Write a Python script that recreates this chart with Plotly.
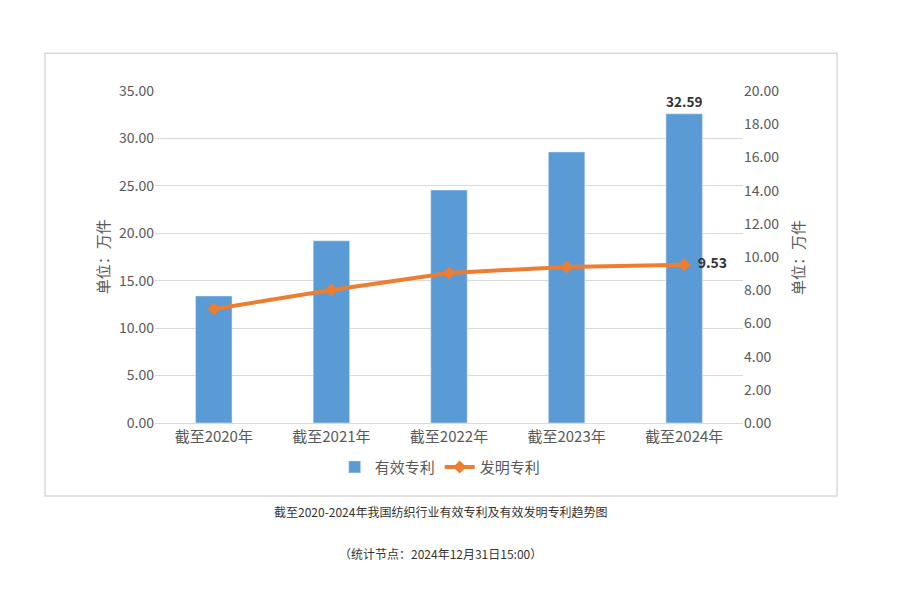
import plotly.graph_objects as go

categories = ["截至2020年", "截至2021年", "截至2022年", "截至2023年", "截至2024年"]
valid_patents = [13.39, 19.2, 24.56, 28.57, 32.59]
invention_patents = [6.87, 8.01, 9.04, 9.40, 9.53]

FONT = "Noto Sans CJK SC"
GREY = "#595959"

fig = go.Figure()
fig.add_trace(go.Bar(x=categories, y=valid_patents, name="有效专利",
                     marker_color="#5b9bd5", width=0.31,
                     text=["", "", "", "", "<b>32.59</b>"], textposition="outside",
                     textfont=dict(size=14, color="#333333", family=FONT), cliponaxis=False))
fig.add_trace(go.Scatter(x=categories, y=invention_patents, name="发明专利", yaxis="y2",
                         mode="lines+markers+text", line=dict(color="#ed7d31", width=4),
                         marker=dict(symbol="diamond", size=10, color="#ed7d31"),
                         text=["", "", "", "", "<b>  9.53</b>"], textposition="middle right",
                         textfont=dict(size=14, color="#333333", family=FONT), cliponaxis=False))

fig.update_layout(
    width=909, height=599, paper_bgcolor="white", plot_bgcolor="white",
    margin=dict(l=147, r=174, t=83, b=184),
    font=dict(family=FONT, color=GREY, size=14),
    showlegend=True,
    legend=dict(orientation="h", x=0.485, y=-0.133, xanchor="center", yanchor="middle",
                font=dict(size=15, color=GREY), traceorder="normal"),
    xaxis=dict(showline=True, linecolor="#d9d9d9", ticks="", tickfont=dict(size=15)),
    yaxis=dict(range=[0, 35], dtick=5, tickformat=".2f", gridcolor="#d9d9d9",
               zeroline=False, tickfont=dict(size=14)),
    yaxis2=dict(range=[0, 20], dtick=2, tickformat=".2f", overlaying="y", side="right",
                showgrid=False, zeroline=False, tickfont=dict(size=14)),
    shapes=[dict(type="rect", xref="paper", yref="paper", x0=-0.187, x1=1.160,
                 y0=-0.220, y1=1.114, line=dict(color="#d9d9d9", width=1.5))],
    annotations=[
        dict(text="单位：万件", xref="paper", yref="paper", x=-0.111, y=0.5, textangle=-90,
             showarrow=False, font=dict(size=15, color=GREY)),
        dict(text="单位：万件", xref="paper", yref="paper", x=1.113, y=0.5, textangle=-90,
             showarrow=False, font=dict(size=15, color=GREY)),
        dict(text="截至2020-2024年我国纺织行业有效专利及有效发明专利趋势图", xref="paper", yref="paper",
             x=0.485, y=-0.298, showarrow=False, font=dict(size=12, color="#333333")),
        dict(text="（统计节点：2024年12月31日15:00）", xref="paper", yref="paper",
             x=0.485, y=-0.425, showarrow=False, font=dict(size=12, color="#333333")),
    ],
)
fig.write_html("out.html")
